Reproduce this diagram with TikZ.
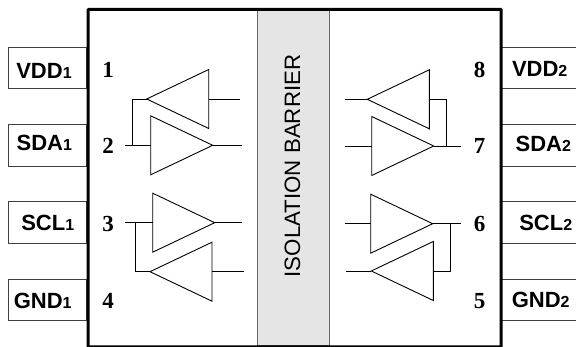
\documentclass[tikz,border=0pt]{standalone}
\usepackage{fontspec}
\setmainfont{Liberation Sans}
\newfontfamily\numfont{Liberation Serif}
\usetikzlibrary{shapes.geometric,positioning}

\begin{document}
\begin{tikzpicture}[x=1pt,y=-1pt,line join=miter,
  pinbox/.style={draw=black!75,line width=0.9pt,rectangle,inner sep=0pt,outer sep=0pt,minimum width=78pt,minimum height=41.5pt},
  pinname/.style={font=\fontsize{22}{24}\selectfont\bfseries,inner sep=0pt},
  pinnum/.style={font=\fontsize{23}{25}\selectfont\numfont\bfseries,inner sep=0pt},
  driver/.style={isosceles triangle,isosceles triangle stretches,draw,line width=0.9pt,inner sep=0pt,outer sep=0pt,minimum width=59pt,minimum height=62pt},
  toright/.style={driver,shape border rotate=0,anchor=apex},
  toleft/.style={driver,shape border rotate=180,anchor=apex},
  wire/.style={line width=0.9pt}]
  \useasboundingbox (0,0) rectangle (576,347);

  % pins on the left
  \node (boxa) [pinbox,anchor=north west] at (8.7,47) {};
  \node (boxb) [pinbox,anchor=north west] at (8.7,124.5) {};
  \node (boxc) [pinbox,anchor=north west] at (8.7,201.7) {};
  \node (boxd) [pinbox,anchor=north west] at (8.7,279) {};

  % pins on the right, open towards the edge
  \foreach \ya/\yb in {47/88.3,124.5/166,201.7/243,279/320.3}
    \draw[draw=black!75,line width=0.9pt] (500,\ya) -- (576,\ya) (500,\yb) -- (576,\yb);

  % barrier and frame
  \node (barrier) [rectangle,fill=black!10,draw=black!60,line width=0.9pt,inner sep=0pt,minimum width=72.6pt,minimum height=337pt,anchor=north west] at (256.7,8) {};
  \node (barriertext) [rotate=90,inner sep=0pt,font=\fontsize{22.3}{24}\selectfont] at (292.5,166) {ISOLATION BARRIER};
  \node (frame) [rectangle,draw,line width=3pt,rounded corners=0.5pt,inner sep=0pt,minimum width=413pt,minimum height=337.3pt,anchor=north west] at (86.7,8) {};

  % names
  \node (vddA) [pinname] at (44,71) {VDD{\fontsize{16}{17}\selectfont 1}};
  \node (sdaA) [pinname] at (44.3,143.3) {SDA{\fontsize{16}{17}\selectfont 1}};
  \node (sclA) [pinname] at (47.7,222.7) {SCL{\fontsize{16}{17}\selectfont 1}};
  \node (gndA) [pinname] at (42.7,300.7) {GND{\fontsize{16}{17}\selectfont 1}};
  \node (vddB) [pinname] at (539.7,68.5) {VDD{\fontsize{16}{17}\selectfont 2}};
  \node (sdaB) [pinname] at (543.3,144.3) {SDA{\fontsize{16}{17}\selectfont 2}};
  \node (sclB) [pinname] at (545.7,222.7) {SCL{\fontsize{16}{17}\selectfont 2}};
  \node (gndB) [pinname] at (540.7,300.3) {GND{\fontsize{16}{17}\selectfont 2}};

  % numbers
  \node (numa) [pinnum] at (108,70) {1};
  \node (numb) [pinnum] at (108,146) {2};
  \node (numc) [pinnum] at (108,224) {3};
  \node (numd) [pinnum] at (108,301) {4};
  \node (nume) [pinnum] at (479.7,301) {5};
  \node (numf) [pinnum] at (479.7,224) {6};
  \node (numg) [pinnum] at (479.7,146) {7};
  \node (numh) [pinnum] at (479.7,70) {8};

  % left drivers
  \node (tl1) [toleft] at (146.7,99) {};
  \node (tl2) [toright] at (212.7,145.3) {};
  \node (tl3) [toright] at (214.7,222.7) {};
  \node (tl4) [toleft] at (150,271.7) {};

  % right drivers
  \node (tr1) [toleft] at (367.3,99.3) {};
  \node (tr2) [toright] at (433.7,146) {};
  \node (tr3) [toright] at (432.7,223.7) {};
  \node (tr4) [toleft] at (371.3,271) {};

  % free ends of the wires
  \coordinate (inb) at (125,145.3);
  \coordinate (inc) at (125,222.7);
  \coordinate (oa) at (240.3,99);
  \coordinate (ob) at (241.7,145.3);
  \coordinate (oc) at (242,222.7);
  \coordinate (od) at (243.7,271.7);
  \coordinate (ra) at (344.7,99.3);
  \coordinate (rb) at (344.7,146);
  \coordinate (rc) at (344.7,223.7);
  \coordinate (rd) at (346,271);
  \coordinate (sb) at (461.3,146);
  \coordinate (sc) at (461.3,223.7);

  % wires
  \draw[wire] (inb) -- (tl2.lower side);
  \draw[wire] (tl2.apex) -- (ob);
  \draw[wire] (tl1.lower side) -- (oa);
  \draw[wire] (tl1.apex) -- (132.7,99) -- (132.7,145.3);
  \draw[wire] (inc) -- (tl3.lower side);
  \draw[wire] (tl3.apex) -- (oc);
  \draw[wire] (tl4.lower side) -- (od);
  \draw[wire] (tl4.apex) -- (135.7,271.7) -- (135.7,222.7);

  \draw[wire] (ra) -- (tr1.apex);
  \draw[wire] (tr1.lower side) -- (446.7,99.3) -- (446.7,146);
  \draw[wire] (rb) -- (tr2.lower side);
  \draw[wire] (tr2.apex) -- (sb);
  \draw[wire] (rc) -- (tr3.lower side);
  \draw[wire] (tr3.apex) -- (sc);
  \draw[wire] (rd) -- (tr4.apex);
  \draw[wire] (tr4.lower side) -- (450.7,271) -- (450.7,223.7);
\end{tikzpicture}
\end{document}
